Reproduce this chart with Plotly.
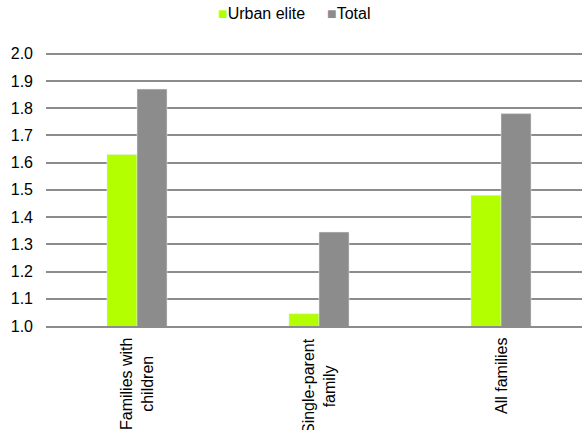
import plotly.graph_objects as go

categories = ["Families with<br>children", "Single-parent<br>family", "All families"]
urban_elite = [1.63, 1.045, 1.48]
total = [1.87, 1.345, 1.78]
y_ticks = [1.0, 1.1, 1.2, 1.3, 1.4, 1.5, 1.6, 1.7, 1.8, 1.9, 2.0]
series_names = ["Urban elite", "Total"]
series_colors = ["#b3ff00", "#8c8c8c"]
legend_x_px = [216, 325]

fig = go.Figure()
fig.add_trace(go.Bar(x=categories, y=urban_elite, name=series_names[0],
                     marker=dict(color=series_colors[0]), showlegend=False))
fig.add_trace(go.Bar(x=categories, y=total, name=series_names[1],
                     marker=dict(color=series_colors[1]), showlegend=False))

# category labels, rotated, lines centered
for c in categories:
    fig.add_annotation(x=c, xref="x", y=0, yref="paper", yshift=-10,
                       text=c, textangle=-90, showarrow=False,
                       xanchor="center", yanchor="top", align="center",
                       font=dict(size=16))

# legend as text items
for name, col, px in zip(series_names, series_colors, legend_x_px):
    fig.add_annotation(xref="paper", x=(px - 46) / 536, yref="paper",
                       y=1 + (54 - 17) / 272, xanchor="left", yanchor="middle",
                       text=f"<span style='color:{col}'>■</span>{name}",
                       showarrow=False, font=dict(size=16))

fig.update_layout(
    width=582, height=430,
    margin=dict(l=46, r=0, t=51, b=104),
    paper_bgcolor="white", plot_bgcolor="white",
    font=dict(family="Liberation Sans, Arial, sans-serif", size=16, color="#000"),
    barmode="group", bargap=0.67, bargroupgap=0,
    showlegend=False,
    xaxis=dict(range=[-0.5, 2.445], showgrid=False, showline=True,
               linecolor="#8c8c8c", linewidth=2, ticks="", showticklabels=False),
    yaxis=dict(range=[1.0, 2.01], tickvals=y_ticks, tickformat=".1f",
               showgrid=True, gridcolor="#8c8c8c", gridwidth=2,
               zeroline=False, showline=False, ticks="", ticklabelstandoff=12,
               tickfont=dict(size=16)),
)
fig.write_html("out.html")
